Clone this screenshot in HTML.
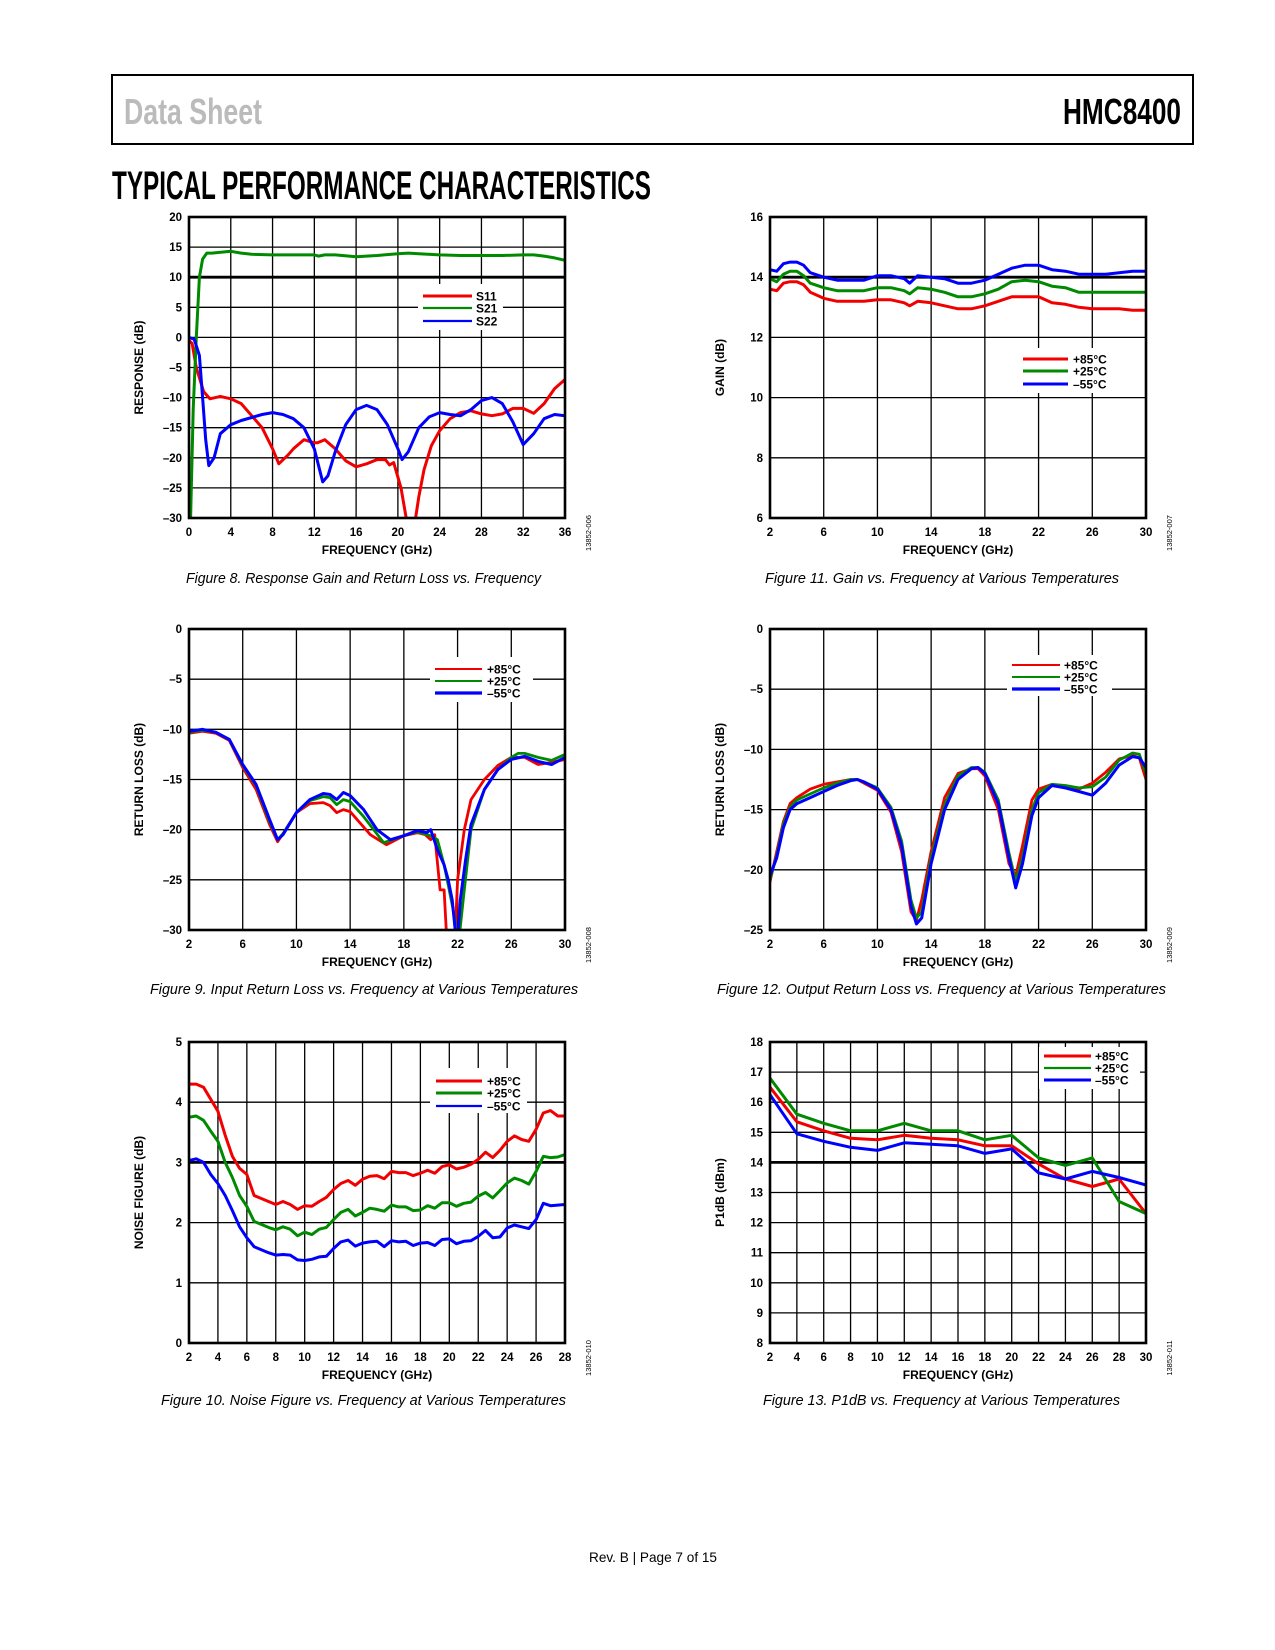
<!DOCTYPE html>
<html><head><meta charset="utf-8"><title>HMC8400 Typical Performance Characteristics</title>
<style>
html,body{margin:0;padding:0;background:#fff;}
svg{display:block;}
text{font-family:"Liberation Sans",sans-serif;}
</style></head>
<body>
<svg id="page" xmlns="http://www.w3.org/2000/svg" width="1275" height="1650" viewBox="0 0 1275 1650">
<rect x="0" y="0" width="1275" height="1650" fill="#fff"/>
<g>
<rect x="112" y="75" width="1081" height="69" fill="none" stroke="#000" stroke-width="2"/>
<text x="124" y="124" font-size="36" font-weight="bold" fill="#bbb" textLength="138" lengthAdjust="spacingAndGlyphs" style="font-family:'Liberation Sans Narrow','Liberation Sans',sans-serif">Data Sheet</text>
<text x="1063" y="124" font-size="36" font-weight="bold" fill="#000" textLength="118" lengthAdjust="spacingAndGlyphs" style="font-family:'Liberation Sans Narrow','Liberation Sans',sans-serif">HMC8400</text>
</g>
<text x="112" y="199" font-size="40" font-weight="bold" fill="#000" textLength="539" lengthAdjust="spacingAndGlyphs" style="font-family:'Liberation Sans Narrow','Liberation Sans',sans-serif">TYPICAL PERFORMANCE CHARACTERISTICS</text>
<g id="charts"></g>
<text x="653" y="1562" font-size="14" text-anchor="middle" fill="#000" textLength="128" lengthAdjust="spacingAndGlyphs">Rev. B | Page 7 of 15</text>
</svg>
<script>
// ---------- Figure 8: S-parameters ----------
const f8_s21 = [0,0.15,0.4,0.7,1.0,1.3,1.7,2.2,2.8,4,5,6,8,10,12,12.4,13,14,16,18,20,21,22,24,26,28,30,32,33,34,35,36];
const v8_s21 = [-30,-30,-12,0,10,13,14,14,14.1,14.3,14.0,13.8,13.7,13.7,13.7,13.5,13.7,13.7,13.4,13.6,13.9,14.0,13.9,13.7,13.6,13.6,13.6,13.7,13.7,13.5,13.2,12.8];
const f8_s11 = [0,0.3,0.7,1.4,2,3,4,5,6,7,8,8.6,9.5,10,11,12,12.3,13,14,15,16,17,18,18.8,19.2,19.6,20.3,20.8,21.2,21.7,22,22.5,23.2,24,25,26,27,28,29,30,31,32,33,34,35,36];
const v8_s11 = [-0.5,-1,-5,-9,-10.2,-9.8,-10.2,-11,-13,-15,-18.5,-21,-19.5,-18.5,-17,-17.5,-17.5,-17,-18.5,-20.5,-21.5,-21,-20.3,-20.3,-21.2,-20.8,-25,-30,-34,-30,-26.5,-22,-18,-15.5,-13.5,-12.5,-12.2,-12.7,-13,-12.7,-11.8,-11.8,-12.6,-11,-8.5,-7];
const f8_s22 = [0,0.5,1,1.3,1.6,1.9,2.4,3,4,5,6,7,8,9,10,11,12,12.5,12.8,13.3,14,15,16,17,18,19,20,20.4,21,22,23,24,25,26,27,28,29,30,31,32,33,34,35,36];
const v8_s22 = [0,-0.3,-3,-10,-17,-21.3,-20,-16,-14.5,-13.8,-13.3,-12.8,-12.5,-12.8,-13.5,-15,-18.5,-22,-24,-23,-19,-14.5,-12,-11.3,-12,-14.5,-18.5,-20.3,-19,-15,-13.2,-12.5,-12.8,-13,-12,-10.5,-10,-11,-14,-17.8,-16,-13.5,-12.8,-13];
const t8_x = ['0','4','8','12','16','20','24','28','32','36'];
const t8_y = ['20','15','10','5','0','–5','–10','–15','–20','–25','–30'];

// ---------- Figure 11: Gain vs temperature ----------
const f11 = [2,2.5,3,3.5,4,4.5,5,6,7,8,9,10,11,12,12.4,13,14,15,16,17,18,19,20,21,22,23,24,25,26,27,28,29,30];
const v11_hot  = [13.6,13.55,13.8,13.85,13.85,13.75,13.5,13.3,13.2,13.2,13.2,13.25,13.25,13.15,13.05,13.2,13.15,13.05,12.95,12.95,13.05,13.2,13.35,13.35,13.35,13.15,13.1,13.0,12.95,12.95,12.95,12.9,12.9];
const v11_room = [13.95,13.85,14.1,14.2,14.2,14.05,13.8,13.65,13.55,13.55,13.55,13.65,13.65,13.55,13.45,13.65,13.6,13.5,13.35,13.35,13.45,13.6,13.85,13.9,13.85,13.7,13.65,13.5,13.5,13.5,13.5,13.5,13.5];
const v11_cold = [14.25,14.2,14.45,14.5,14.5,14.4,14.15,14.0,13.9,13.9,13.9,14.05,14.05,13.95,13.8,14.05,14.0,13.95,13.8,13.8,13.9,14.1,14.3,14.4,14.4,14.25,14.2,14.1,14.1,14.1,14.15,14.2,14.2];
const t11_x = ['2','6','10','14','18','22','26','30'];
const t11_y = ['16','14','12','10','8','6'];

// ---------- Figure 9: Input return loss ----------
const f9_cold = [2,3,4,5,6,7,8,8.6,9,10,11,12,12.5,13,13.5,14,15,16,17,18,19,19.7,20,20.5,21,21.3,21.6,21.9,22,22.2,22.6,23,24,25,26,27,28,29,30];
const v9_cold = [-10.2,-10,-10.3,-11,-13.5,-15.5,-19,-21,-20.5,-18.3,-17,-16.4,-16.5,-17,-16.3,-16.6,-18,-20,-21,-20.6,-20.1,-20.3,-20,-22,-23.5,-25,-27,-31,-31,-27,-23,-19.5,-16,-14,-13,-12.7,-13.2,-13.5,-12.8];
const f9_room = [2,3,4,5,6,7,8,8.6,9,10,11,12,12.5,13,13.5,14,15,16.5,18,19,19.7,20,20.5,21,21.3,21.6,21.8,21.9,22.1,22.5,23,24,25,26,26.5,27,28,29,30];
const v9_room = [-10.3,-10.1,-10.3,-11,-13.6,-15.6,-19.2,-21,-20.4,-18.3,-17.1,-16.7,-16.8,-17.5,-17.0,-17.2,-18.7,-21.3,-20.6,-20.2,-20.5,-20.6,-21,-23.5,-25.5,-27.5,-29,-31,-31,-26,-20,-16,-14,-12.8,-12.4,-12.4,-12.8,-13.1,-12.5];
const f9_hot = [2,3,4,5,6,7,8,8.6,9,10,11,12,12.5,13,13.5,14,15.5,16.7,18,19,19.6,20,20.3,20.7,21,21.2,21.8,22,22.5,23,24,25,26,27,28,29,30];
const v9_hot = [-10.4,-10.2,-10.4,-11.1,-13.8,-16,-19.5,-21.2,-20.4,-18.3,-17.4,-17.3,-17.6,-18.3,-18,-18.2,-20.5,-21.5,-20.6,-20.3,-20.5,-21,-20.5,-26,-26,-31,-31,-25,-20,-17,-15,-13.6,-12.8,-12.8,-13.5,-13.3,-13];
const t9_x = ['2','6','10','14','18','22','26','30'];
const t9_y = ['0','–5','–10','–15','–20','–25','–30'];

// ---------- Figure 12: Output return loss ----------
const f12 = [2,2.5,3,3.5,4,5,6,7,8,8.5,9,10,11,11.8,12.5,12.9,13.3,14,15,16,17,17.5,18,19,19.8,20.3,20.8,21.5,22,23,24,25,26,27,28,29,29.5,30];
const v12_cold = [-20.5,-19,-16.5,-15,-14.5,-14,-13.5,-13,-12.6,-12.5,-12.7,-13.3,-15,-18,-23,-24.5,-24,-19.5,-15,-12.5,-11.6,-11.5,-12,-14.5,-19,-21.5,-19.5,-15.5,-14,-13,-13.2,-13.5,-13.8,-12.8,-11.3,-10.6,-10.7,-11.5];
const v12_room = [-20.8,-18.8,-16.2,-14.8,-14.2,-13.7,-13.2,-12.8,-12.5,-12.5,-12.7,-13.2,-14.8,-17.6,-22.5,-24,-23.5,-19,-14.6,-12.2,-11.5,-11.5,-11.9,-14.2,-18.6,-21,-19,-15,-13.6,-12.9,-13,-13.2,-13.1,-12.3,-10.9,-10.3,-10.4,-12];
const v12_hot = [-21,-18.5,-16,-14.5,-14,-13.3,-12.9,-12.7,-12.5,-12.5,-12.8,-13.4,-15.2,-18.5,-23.5,-24.2,-22.5,-18.5,-14,-12,-11.6,-11.6,-12.2,-15,-19.5,-20.5,-18,-14.2,-13.3,-12.9,-13.2,-13.3,-12.8,-11.9,-10.8,-10.5,-10.7,-12.5];
const t12_x = ['2','6','10','14','18','22','26','30'];
const t12_y = ['0','–5','–10','–15','–20','–25'];

// ---------- Figure 10: Noise figure ----------
const f10 = [2,2.5,3,3.5,4,4.5,5,5.5,6,6.5,7,7.5,8,8.5,9,9.5,10,10.5,11,11.5,12,12.5,13,13.5,14,14.5,15,15.5,16,16.5,17,17.5,18,18.5,19,19.5,20,20.5,21,21.5,22,22.5,23,23.5,24,24.5,25,25.5,26,26.5,27,27.5,28];
const v10_hot  = [4.3,4.3,4.25,4.05,3.85,3.45,3.1,2.9,2.8,2.45,2.4,2.35,2.3,2.35,2.3,2.22,2.28,2.27,2.35,2.42,2.55,2.65,2.7,2.62,2.72,2.77,2.78,2.73,2.85,2.83,2.83,2.78,2.82,2.87,2.82,2.93,2.96,2.89,2.92,2.97,3.05,3.17,3.08,3.2,3.35,3.44,3.38,3.35,3.55,3.82,3.86,3.77,3.77];
const v10_room = [3.75,3.77,3.7,3.52,3.35,3.0,2.75,2.45,2.27,2.02,1.97,1.92,1.88,1.93,1.89,1.78,1.84,1.8,1.89,1.92,2.05,2.17,2.22,2.11,2.17,2.24,2.22,2.19,2.29,2.26,2.26,2.2,2.21,2.28,2.24,2.33,2.33,2.27,2.32,2.34,2.44,2.5,2.41,2.53,2.66,2.74,2.7,2.64,2.85,3.1,3.08,3.09,3.13];
const v10_cold = [3.03,3.06,3.0,2.8,2.65,2.45,2.2,1.93,1.75,1.6,1.55,1.5,1.46,1.47,1.46,1.38,1.37,1.39,1.43,1.44,1.57,1.68,1.71,1.61,1.66,1.68,1.69,1.6,1.7,1.68,1.69,1.62,1.66,1.67,1.62,1.72,1.73,1.65,1.69,1.7,1.77,1.87,1.75,1.76,1.91,1.96,1.93,1.9,2.05,2.32,2.28,2.29,2.3];
const t10_x = ['2','4','6','8','10','12','14','16','18','20','22','24','26','28'];
const t10_y = ['5','4','3','2','1','0'];

// ---------- Figure 13: P1dB ----------
const f13 = [2,4,6,8,10,12,14,16,18,20,22,24,26,28,30];
const v13_hot  = [16.5,15.35,15.05,14.8,14.75,14.9,14.8,14.75,14.55,14.55,13.95,13.45,13.2,13.45,12.3];
const v13_room = [16.8,15.6,15.3,15.05,15.05,15.3,15.05,15.05,14.75,14.9,14.15,13.9,14.15,12.7,12.3];
const v13_cold = [16.25,14.95,14.7,14.5,14.4,14.65,14.6,14.55,14.3,14.45,13.65,13.45,13.7,13.5,13.25];
const t13_x = ['2','4','6','8','10','12','14','16','18','20','22','24','26','28','30'];
const t13_y = ['18','17','16','15','14','13','12','11','10','9','8'];

const RED='#f20000', GREEN='#008a00', BLUE='#0000ff';
const NS='http://www.w3.org/2000/svg';
const root=document.getElementById('charts');
function mk(tag,attrs,parent){const e=document.createElementNS(NS,tag);for(const k in attrs)e.setAttribute(k,attrs[k]);(parent||root).appendChild(e);return e;}

let clipId=0;
function drawChart(c){
  const g=mk('g',{});
  
  
  const sx=v=>c.x0+(v-c.xmin)/(c.xmax-c.xmin)*(c.x1-c.x0);
  const sy=v=>c.y1-(v-c.ymin)/(c.ymax-c.ymin)*(c.y1-c.y0);
  const nx=c.xt.length-1, ny=c.yt.length-1;
  for(let i=1;i<nx;i++){
    const xv=c.xmin+(c.xmax-c.xmin)*i/nx;
    const l=mk('line',{x1:sx(xv),x2:sx(xv),y1:c.y0,y2:c.y1,stroke:'#000','stroke-width':1.3},g);
    
    
  }
  for(let i=1;i<ny;i++){
    const yv=c.ymax-(c.ymax-c.ymin)*i/ny;
    const bold=(c.boldY!==undefined && Math.abs(yv-c.boldY)<1e-6);
    const l=mk('line',{x1:c.x0,x2:c.x1,y1:sy(yv),y2:sy(yv),stroke:'#000','stroke-width':bold?2.8:1.3},g);
    
    
  }
  const lg=mk('g',{},g);
  
  
  const L=c.legend;
  mk('rect',{x:L.bx0,y:L.by0,width:L.bx1-L.bx0,height:L.by1-L.by0,fill:'#fff'},lg);
  const cid='clip'+(clipId++);
  const cp=mk('clipPath',{id:cid},g);
  mk('rect',{x:c.x0,y:c.y0,width:c.x1-c.x0,height:c.y1-c.y0},cp);
  const sg=mk('g',{'clip-path':'url(#'+cid+')'},g);
  c.series.forEach(s=>{
    const pts=s.f.map((fv,i)=>sx(fv).toFixed(1)+','+sy(s.v[i]).toFixed(1)).join(' ');
    const p=mk('polyline',{points:pts,fill:'none',stroke:s.color,'stroke-width':s.w||3,'stroke-linejoin':'round','stroke-linecap':'round'},sg);
    
    
  });
  c.series.forEach((s,i)=>{
    const yy=L.ly[i];
    const ln=mk('line',{x1:L.lx0,x2:L.lx1,y1:yy,y2:yy,stroke:s.color,'stroke-width':s.lw||3},lg);
    
    
    const t=mk('text',{x:L.tx,y:yy+4.5,'font-size':12,'font-weight':'bold',fill:'#000'},lg);
    t.textContent=s.label;
    
    
  });
  const fr=mk('rect',{x:c.x0,y:c.y0,width:c.x1-c.x0,height:c.y1-c.y0,fill:'none',stroke:'#000','stroke-width':2.6},g);
  
  
  c.xt.forEach((lab,i)=>{
    const t=mk('text',{x:c.x0+(c.x1-c.x0)*i/nx,y:c.y1+18,'font-size':11.5,'font-weight':'bold','text-anchor':'middle',fill:'#000'},g);
    t.textContent=lab;
    
    
  });
  c.yt.forEach((lab,i)=>{
    const t=mk('text',{x:c.x0-7,y:c.y0+(c.y1-c.y0)*i/ny+4,'font-size':11.5,'font-weight':'bold','text-anchor':'end',fill:'#000'},g);
    t.textContent=lab;
    
    
  });
  const xt=mk('text',{x:(c.x0+c.x1)/2,y:c.y1+36,'font-size':12,'font-weight':'bold','text-anchor':'middle',fill:'#000'},g);
  xt.textContent='FREQUENCY (GHz)';
  
  
  const yx=c.x0-46, yc=(c.y0+c.y1)/2;
  const yt=mk('text',{x:yx,y:yc,'font-size':12,'font-weight':'bold','text-anchor':'middle',fill:'#000',transform:'rotate(-90 '+yx+' '+yc+')'},g);
  yt.textContent=c.ytitle;
  
  
  const ix=c.x1+26, iy=c.y1+15;
  const it=mk('text',{x:ix,y:iy,'font-size':7.5,'text-anchor':'middle',fill:'#000',transform:'rotate(-90 '+ix+' '+iy+')'},g);
  it.textContent=c.code;
  
  
  const cap=mk('text',{x:c.capX0,y:c.capY,'font-size':15,'font-style':'italic',fill:'#000',textLength:c.capX1-c.capX0,lengthAdjust:'spacingAndGlyphs'},g);
  cap.textContent=c.caption;
  
  
}

const L1=189,R1=565,L2=770,R2=1146;
drawChart({name:'chart-response-vs-frequency',x0:L1,x1:R1,y0:217,y1:518,xmin:0,xmax:36,ymin:-30,ymax:20,boldY:10,xt:t8_x,yt:t8_y,
  ytitle:'RESPONSE (dB)',code:'13852-006',caption:'Figure 8. Response Gain and Return Loss vs. Frequency',capX0:186,capX1:541,capY:583,
  legend:{bx0:418,bx1:503,by0:284,by1:330,lx0:423,lx1:472,ly:[296,308,321],tx:476},
  series:[{id:'s11',label:'S11',color:RED,f:f8_s11,v:v8_s11},{id:'s21',label:'S21',color:GREEN,f:f8_s21,v:v8_s21,lw:2.2},{id:'s22',label:'S22',color:BLUE,f:f8_s22,v:v8_s22,lw:2.2}]});
drawChart({name:'chart-gain-vs-temperature',x0:L2,x1:R2,y0:217,y1:518,xmin:2,xmax:30,ymin:6,ymax:16,boldY:14,xt:t11_x,yt:t11_y,
  ytitle:'GAIN (dB)',code:'13852-007',caption:'Figure 11. Gain vs. Frequency at Various Temperatures',capX0:765,capX1:1119,capY:583,
  legend:{bx0:1018,bx1:1113,by0:348,by1:393,lx0:1023,lx1:1068,ly:[359,371,384],tx:1073},
  series:[{id:'plus85c',label:'+85°C',color:RED,f:f11,v:v11_hot},{id:'plus25c',label:'+25°C',color:GREEN,f:f11,v:v11_room},{id:'minus55c',label:'–55°C',color:BLUE,f:f11,v:v11_cold}]});
drawChart({name:'chart-input-return-loss',x0:L1,x1:R1,y0:629,y1:930,xmin:2,xmax:30,ymin:-30,ymax:0,xt:t9_x,yt:t9_y,
  ytitle:'RETURN LOSS (dB)',code:'13852-008',caption:'Figure 9. Input Return Loss vs. Frequency at Various Temperatures',capX0:150,capX1:578,capY:994,
  legend:{bx0:430,bx1:533,by0:657,by1:702,lx0:435,lx1:482,ly:[669,681,693],tx:487},
  series:[{id:'plus85c',label:'+85°C',color:RED,f:f9_hot,v:v9_hot,w:2.8,lw:2},{id:'plus25c',label:'+25°C',color:GREEN,f:f9_room,v:v9_room,w:2.8,lw:2},{id:'minus55c',label:'–55°C',color:BLUE,f:f9_cold,v:v9_cold,w:3,lw:3.2}]});
drawChart({name:'chart-output-return-loss',x0:L2,x1:R2,y0:629,y1:930,xmin:2,xmax:30,ymin:-25,ymax:0,xt:t12_x,yt:t12_y,
  ytitle:'RETURN LOSS (dB)',code:'13852-009',caption:'Figure 12. Output Return Loss vs. Frequency at Various Temperatures',capX0:717,capX1:1166,capY:994,
  legend:{bx0:1007,bx1:1112,by0:655,by1:696,lx0:1012,lx1:1060,ly:[665,677,689],tx:1064},
  series:[{id:'plus85c',label:'+85°C',color:RED,f:f12,v:v12_hot,w:2.8,lw:2},{id:'plus25c',label:'+25°C',color:GREEN,f:f12,v:v12_room,w:2.8,lw:2},{id:'minus55c',label:'–55°C',color:BLUE,f:f12,v:v12_cold,w:3,lw:3.2}]});
drawChart({name:'chart-noise-figure',x0:L1,x1:R1,y0:1042,y1:1343,xmin:2,xmax:28,ymin:0,ymax:5,boldY:3,xt:t10_x,yt:t10_y,
  ytitle:'NOISE FIGURE (dB)',code:'13852-010',caption:'Figure 10. Noise Figure vs. Frequency at Various Temperatures',capX0:161,capX1:566,capY:1405,
  legend:{bx0:430,bx1:527,by0:1068,by1:1113,lx0:436,lx1:482,ly:[1081,1093,1106],tx:487},
  series:[{id:'plus85c',label:'+85°C',color:RED,f:f10,v:v10_hot},{id:'plus25c',label:'+25°C',color:GREEN,f:f10,v:v10_room},{id:'minus55c',label:'–55°C',color:BLUE,f:f10,v:v10_cold,lw:2.2}]});
drawChart({name:'chart-p1db',x0:L2,x1:R2,y0:1042,y1:1343,xmin:2,xmax:30,ymin:8,ymax:18,boldY:14,xt:t13_x,yt:t13_y,
  ytitle:'P1dB (dBm)',code:'13852-011',caption:'Figure 13. P1dB vs. Frequency at Various Temperatures',capX0:763,capX1:1120,capY:1405,
  legend:{bx0:1039,bx1:1140,by0:1047,by1:1089,lx0:1044,lx1:1091,ly:[1056,1068,1080],tx:1095},
  series:[{id:'plus85c',label:'+85°C',color:RED,f:f13,v:v13_hot},{id:'plus25c',label:'+25°C',color:GREEN,f:f13,v:v13_room,lw:2.2},{id:'minus55c',label:'–55°C',color:BLUE,f:f13,v:v13_cold}]});
</script>
</body></html>
